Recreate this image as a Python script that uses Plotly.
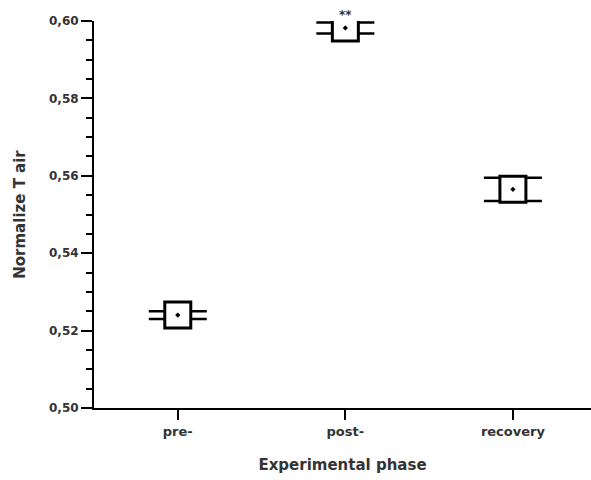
import plotly.graph_objects as go

phases = ["pre-", "post-", "recovery"]
mean_values = [0.5240, 0.5982, 0.5565]
error_values = [0.0010, 0.0014, 0.0030]
significance = ["", "**", ""]
y_ticks = [0.50, 0.52, 0.54, 0.56, 0.58, 0.60]

FONT = "DejaVu Sans"
TXT = "#333333"

fig = go.Figure()
fig.add_trace(go.Scatter(
    x=phases,
    y=mean_values,
    mode="markers",
    marker=dict(symbol="square-dot", size=26, color="white",
                line=dict(color="black", width=3)),
    error_y=dict(type="data", array=error_values, symmetric=True,
                 color="black", thickness=2.5, width=29),
    cliponaxis=True,
    showlegend=False,
))

for ph, m, e, s in zip(phases, mean_values, error_values, significance):
    if s:
        fig.add_annotation(x=ph, y=m + e, text="<b>" + s + "</b>", showarrow=False,
                           yanchor="bottom", yshift=0, borderpad=0,
                           font=dict(family=FONT, size=12, color=TXT))

fig.update_layout(
    width=591, height=480,
    margin=dict(l=94, r=0, t=21, b=72, autoexpand=False),
    plot_bgcolor="white", paper_bgcolor="white",
    separators=", ",
    font=dict(family=FONT, color=TXT),
    xaxis=dict(
        type="category", range=[-0.5, 2.466], automargin=False,
        showline=True, linecolor="black", linewidth=2,
        ticks="outside", ticklen=10, tickwidth=2, tickcolor="black",
        showgrid=False, zeroline=False,
        tickfont=dict(family=FONT, size=13, color=TXT, weight="bold"),
        title=dict(text="<b>Experimental phase</b>", standoff=22,
                   font=dict(family=FONT, size=15, color=TXT)),
    ),
    yaxis=dict(
        range=[0.50, 0.60], automargin=False,
        tickvals=y_ticks, tickformat=".2f",
        showline=True, linecolor="black", linewidth=2,
        ticks="outside", ticklen=11, tickwidth=2, tickcolor="black",
        minor=dict(dtick=0.005, ticks="outside", ticklen=6, tickwidth=2, tickcolor="black"),
        showgrid=False, zeroline=False,
        tickfont=dict(family=FONT, size=12, color=TXT, weight="bold"),
        title=dict(text="<b>Normalize T air</b>", standoff=20,
                   font=dict(family=FONT, size=15, color=TXT)),
    ),
)

fig.write_html("out.html", config={"displayModeBar": False},
               post_script=["document.body.style.margin='0px';"])
